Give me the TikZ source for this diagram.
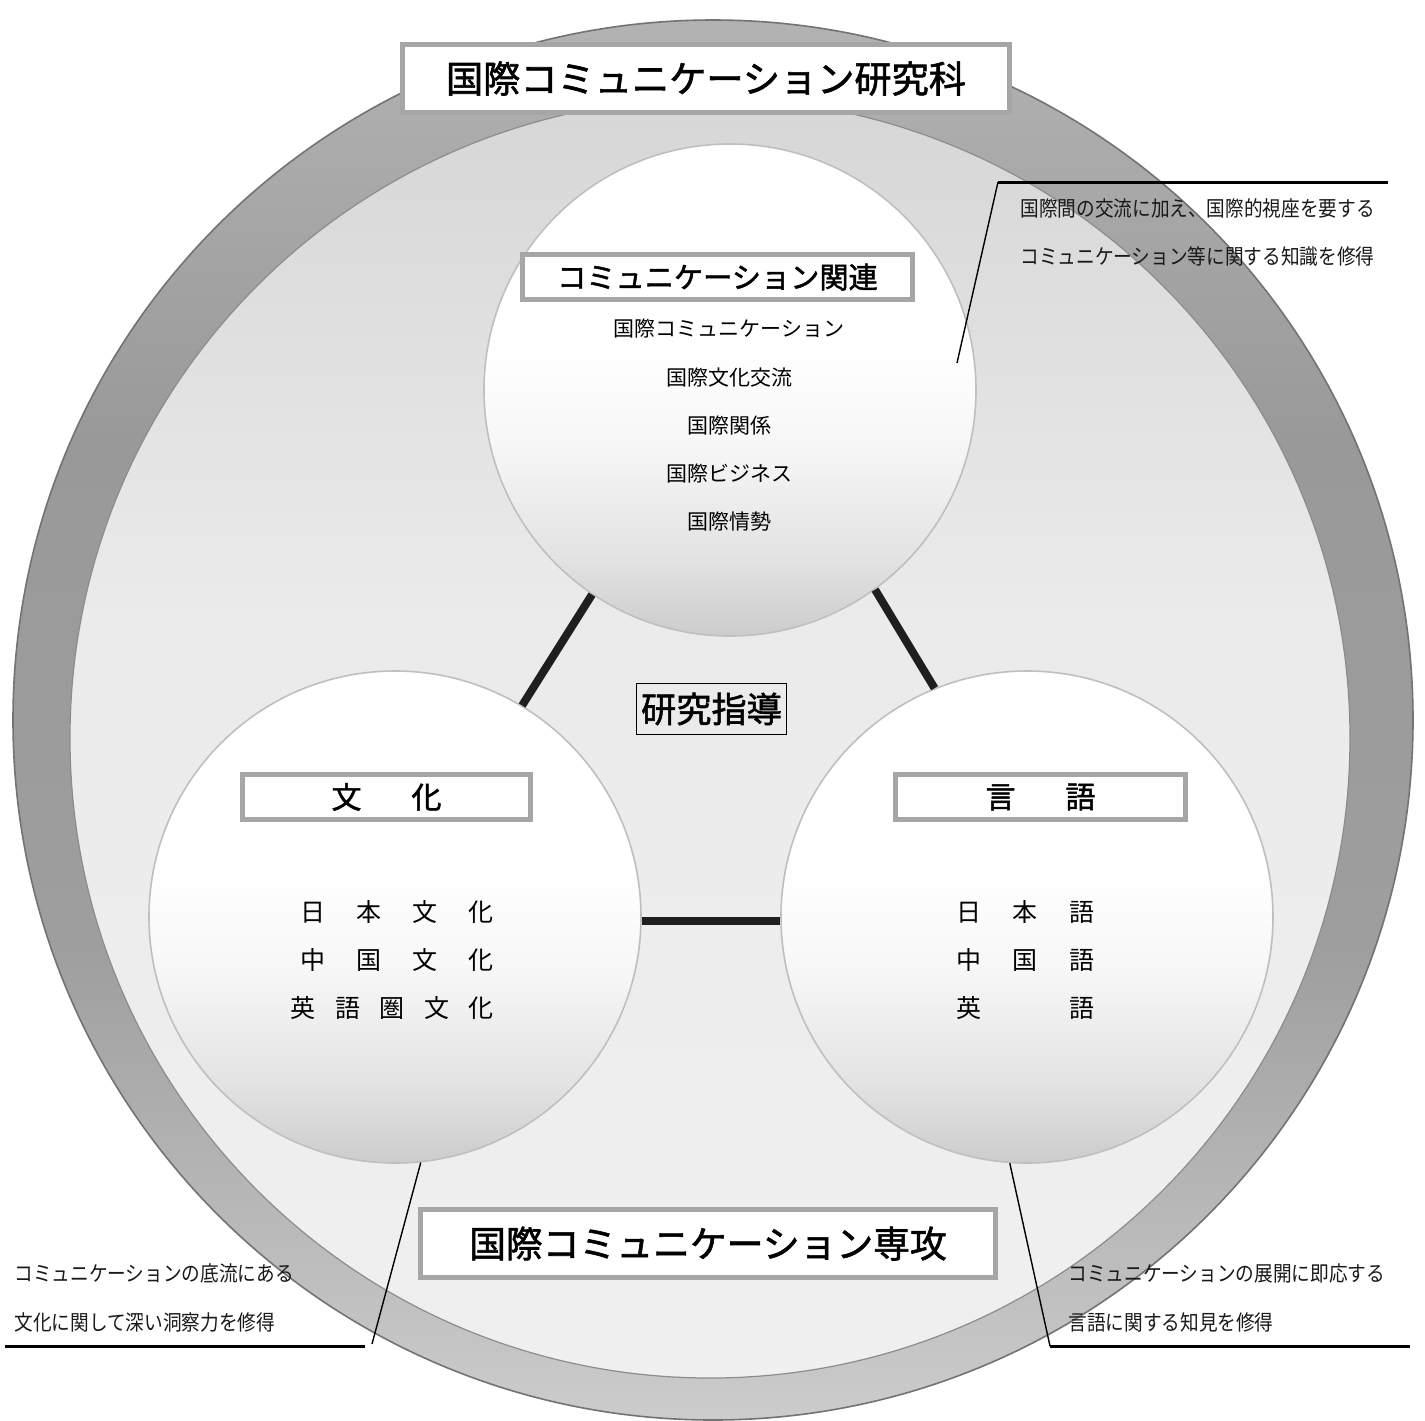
\documentclass[tikz,border=0pt]{standalone}
\usepackage{fontspec}
\newfontfamily\jp{Noto Sans CJK JP}
\newfontfamily\jpb{Noto Sans CJK JP}[FakeBold=1.6]
\newfontfamily\jpn{Noto Sans CJK JP}[FakeStretch=0.88]
\pgfdeclareverticalshading{ballshade}{100bp}{color(0bp)=(black!20); color(25bp)=(black!20); color(33bp)=(black!11); color(45bp)=(black!3); color(55bp)=(white); color(100bp)=(white)}
\pgfdeclareverticalshading{bandshade}{100bp}{color(0bp)=(black!20); color(25bp)=(black!20); color(42bp)=(black!38); color(60bp)=(black!40); color(75bp)=(black!30); color(100bp)=(black!30)}
\pgfdeclareverticalshading{innershade}{100bp}{color(0bp)=(black!6); color(25bp)=(black!6); color(55bp)=(black!8); color(75bp)=(black!16); color(100bp)=(black!16)}
\begin{document}
\begin{tikzpicture}[x=0.5pt,y=-0.5pt,
  ball/.style={circle, minimum size=246pt, inner sep=0pt, shade, shading=ballshade, draw=black!25, line width=0.8pt},
  graybox/.style={draw=black!35, line width=2.2pt, fill=white, inner sep=0pt},
  bar/.style={line width=4pt, black!88},
  leader/.style={line width=0.7pt, black},
  rule/.style={line width=1.5pt, black},
  item/.style={font=\jp\fontsize{10.5pt}{12pt}\selectfont, inner sep=0pt},
  big/.style={font=\jp\fontsize{12.5pt}{14pt}\selectfont, inner sep=0pt},
  note/.style={font=\jpn\fontsize{10.6pt}{12pt}\selectfont, anchor=west, inner sep=0pt, text=black!90}]
\useasboundingbox (0,0) rectangle (1425,1420);
\fill[white] (0,0) rectangle (1425,1420);
% outer ring and inner area
\path[shade, shading=bandshade, draw=black!55, line width=0.8pt] (713,720) circle[radius=700];
\path[shade, shading=innershade, draw=black!45, line width=0.6pt] (710,738) circle[radius=640];
% three circles
\node[ball] (kom) at (730,390) {};
\node[ball] (bun) at (395,917) {};
\node[ball] (gen) at (1027,917) {};
% bars
\draw[bar] (kom.-124) -- (bun.59);
\draw[bar] (kom.-54) -- (gen.112);
\draw[bar] (bun.-1) -- (gen.181);
% titles
\node[graybox, minimum width=303.5pt, minimum height=34pt, font=\jpb\fontsize{18.6pt}{20pt}\selectfont] (title) at (706,78.5) {国際コミュニケーション研究科};
\node[graybox, minimum width=287.5pt, minimum height=34pt, font=\jpb\fontsize{18.4pt}{20pt}\selectfont] (major) at (708,1243.5) {国際コミュニケーション専攻};
\node[draw=black, line width=0.8pt, minimum width=75pt, minimum height=25.5pt, inner sep=0pt, font=\jpb\fontsize{17.6pt}{19pt}\selectfont] (shido) at (711.5,709) {研究指導};
% communication circle
\node[graybox, minimum width=195pt, minimum height=22.5pt, font=\jpb\fontsize{14.6pt}{16pt}\selectfont] (komt) at (717.5,277) {コミュニケーション関連};
\node[item] (k1) at (729,329) {国際コミュニケーション};
\node[item] (k2) at (729,378) {国際文化交流};
\node[item] (k3) at (729,426) {国際関係};
\node[item] (k4) at (729,474) {国際ビジネス};
\node[item] (k5) at (729,522) {国際情勢};
% culture circle
\node[graybox, minimum width=144pt, minimum height=22.5pt, font=\jpb\fontsize{15pt}{16pt}\selectfont] (bunt) at (386.5,797) {文\hspace{25pt}化};
\node[big, anchor=east] (b1) at (494,912) {\makebox[96.5pt][s]{日\hfill 本\hfill 文\hfill 化}};
\node[big, anchor=east] (b2) at (494,960) {\makebox[96.5pt][s]{中\hfill 国\hfill 文\hfill 化}};
\node[big, anchor=east] (b3) at (494,1008) {\makebox[101.5pt][s]{英\hfill 語\hfill 圏\hfill 文\hfill 化}};
% language circle
\node[graybox, minimum width=145pt, minimum height=22.5pt, font=\jpb\fontsize{15pt}{16pt}\selectfont] (gent) at (1040.5,797) {言\hspace{25pt}語};
\node[big, anchor=west] (g1) at (956,912) {\makebox[69pt][s]{日\hfill 本\hfill 語}};
\node[big, anchor=west] (g2) at (956,960) {\makebox[69pt][s]{中\hfill 国\hfill 語}};
\node[big, anchor=west] (g3) at (956,1008) {\makebox[69pt][s]{英\hfill 語}};
% annotations
\coordinate (tra) at (957,363);
\coordinate (trb) at (998,182);
\coordinate (trc) at (1388,182);
\draw[leader] (tra) -- (trb);
\draw[rule] (trb) -- (trc);
\node[note] (n1) at (1020,208) {国際間の交流に加え、国際的視座を要する};
\node[note] (n2) at (1020,256) {コミュニケーション等に関する知識を修得};
\coordinate (bla) at (372,1344);
\coordinate (blb) at (365,1346);
\coordinate (blc) at (5,1346);
\draw[leader] (bun.-84) -- (bla);
\draw[rule] (blb) -- (blc);
\node[note] (n3) at (14,1273) {コミュニケーションの底流にある};
\node[note] (n4) at (14,1322) {文化に関して深い洞察力を修得};
\coordinate (bra) at (1050,1346);
\coordinate (brb) at (1410,1346);
\draw[leader] (gen.-94) -- (bra);
\draw[rule] (bra) -- (brb);
\node[note] (n5) at (1068,1273) {コミュニケーションの展開に即応する};
\node[note] (n6) at (1068,1322) {言語に関する知見を修得};
\end{tikzpicture}
\end{document}
